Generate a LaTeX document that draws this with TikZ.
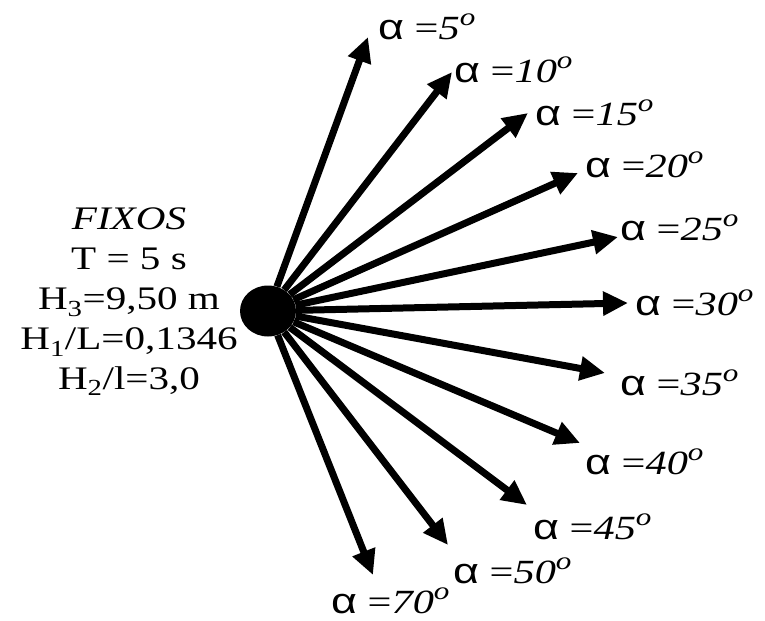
\documentclass[tikz,border=0pt]{standalone}
\usepackage{fontspec}
\setmainfont[FakeStretch=1.25]{Liberation Serif}
\newfontfamily\alphafont[FakeStretch=1.25]{Liberation Sans}
\usetikzlibrary{shapes.geometric, arrows.meta}

\newcommand{\alab}[1]{{\alphafont\fontsize{36}{40}\selectfont α} =\textit{#1}\raisebox{0.42em}{\fontsize{25}{25}\selectfont\textit{o}}}

\begin{document}
\begin{tikzpicture}[
  x=1bp, y=-1bp,
  every node/.style={font=\fontsize{33}{40}\selectfont},
  ray/.style={line width=7bp, -{Triangle[length=25bp, width=23bp]}},
  alabel/.style={anchor=west, inner sep=0pt, font=\fontsize{34}{40}\selectfont},
  params/.style={align=center, inner sep=0pt}
]
\useasboundingbox (0,0) rectangle (765,621);

% ---- PARAMETROS FIXOS ----
\node[params] (fixos) at (129,302) {\textit{FIXOS}\\T = 5 s\\H\textsubscript{3}=9,50 m\\H\textsubscript{1}/L=0,1346\\H\textsubscript{2}/l=3,0};

% ---- ORIGEM ----
\node[ellipse, fill=black, minimum width=56bp, minimum height=51bp, inner sep=0pt] (src) at (268,311) {};

% ---- PONTAS DAS SETAS ----
\coordinate (t5)  at (368,37);
\coordinate (t10) at (452,72);
\coordinate (t15) at (528,113);
\coordinate (t20) at (578,173);
\coordinate (t25) at (618,237);
\coordinate (t30) at (628,303);
\coordinate (t35) at (605,373);
\coordinate (t40) at (580,443);
\coordinate (t45) at (527,505);
\coordinate (t50) at (448,545);
\coordinate (t70) at (373,575);

% ---- ROTULOS ----
\node[alabel] (l5)  at (378,27)  {\alab{5}};
\node[alabel] (l10) at (454,70)  {\alab{10}};
\node[alabel] (l15) at (535,113) {\alab{15}};
\node[alabel] (l20) at (585,165) {\alab{20}};
\node[alabel] (l25) at (620,228) {\alab{25}};
\node[alabel] (l30) at (635,303) {\alab{30}};
\node[alabel] (l35) at (620,383) {\alab{35}};
\node[alabel] (l40) at (585,462) {\alab{40}};
\node[alabel] (l45) at (533,527) {\alab{45}};
\node[alabel] (l50) at (453,571) {\alab{50}};
\node[alabel] (l70) at (331,601) {\alab{70}};

% ---- SETAS ----
\draw[ray] (src) -- (t5);
\draw[ray] (src) -- (t10);
\draw[ray] (src) -- (t15);
\draw[ray] (src) -- (t20);
\draw[ray] (src) -- (t25);
\draw[ray] (src) -- (t30);
\draw[ray] (src) -- (t35);
\draw[ray] (src) -- (t40);
\draw[ray] (src) -- (t45);
\draw[ray] (src) -- (t50);
\draw[ray] (src) -- (t70);
\end{tikzpicture}
\end{document}
